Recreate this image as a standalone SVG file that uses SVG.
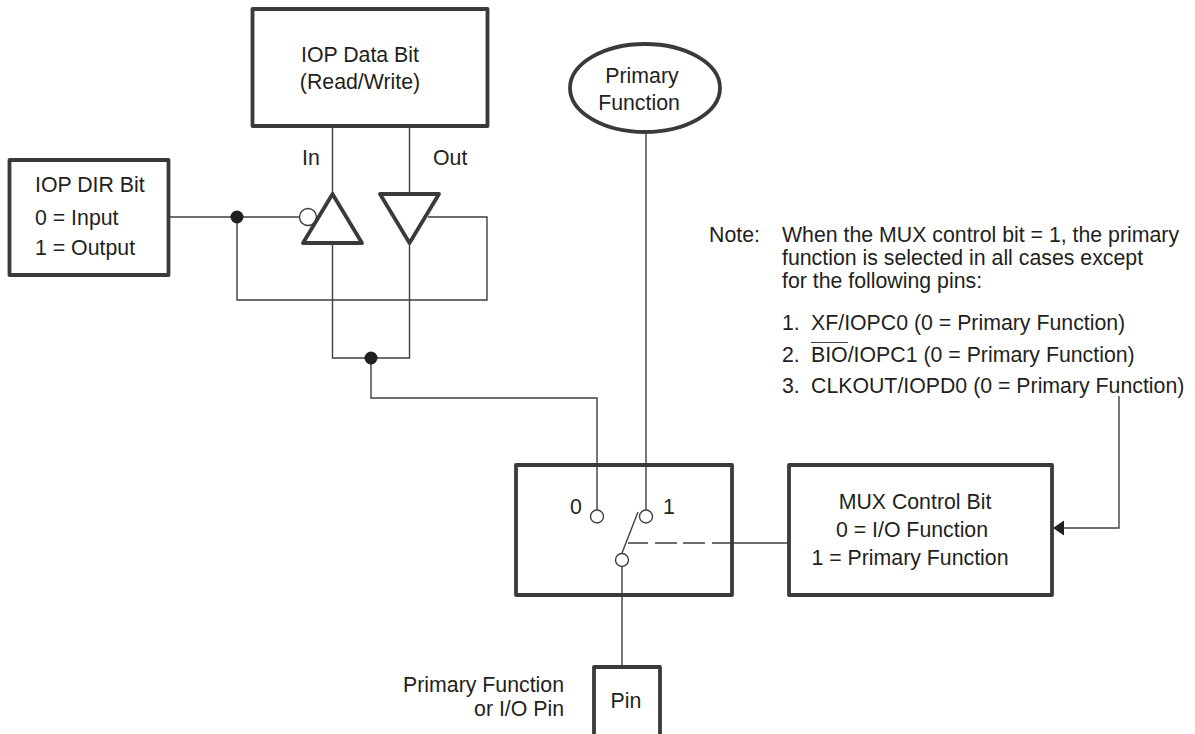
<svg xmlns="http://www.w3.org/2000/svg" width="1195" height="734" viewBox="0 0 1195 734">
<style>
text{font-family:"Liberation Sans",Arial,sans-serif;font-size:21.300px;fill:#231f20}
.m{text-anchor:middle}
.e{text-anchor:end}
.b{fill:#fff;stroke:#3a3a3a;stroke-width:3.800;stroke-linejoin:round}
.n{fill:none;stroke:#3a3a3a;stroke-width:3.800;stroke-linejoin:round}
.w{fill:none;stroke:#3f3f3f;stroke-width:1.400}
.o{fill:#fff;stroke:#3f3f3f;stroke-width:1.400}
.d{fill:#231f20}
</style>
<rect width="1195" height="734" fill="#fff"/>
<g id="connectors">
<path class="w" d="M170 217H301"/>
<path class="w" d="M237 217V300H487V217H428"/>
<path class="w" d="M332.500 127V194M409.500 127V194"/>
<path class="w" d="M332.500 243V358H409.500V243"/>
<path class="w" d="M371 358V398H597V510"/>
<path class="w" d="M646 133V510"/>
<path class="w" d="M622 566V667"/>
<path class="w" d="M638 512L622 553"/>
<path class="w" d="M628 543H648M655 543H677M683 543H705M712 543H789"/>
<path class="w" d="M1119 396V528H1060"/>
<polygon class="d" points="1053,528 1064,520.500 1064,535.500"/>
<circle class="d" cx="237" cy="217" r="6.500"/>
<circle class="d" cx="371" cy="358" r="6.500"/>
</g>
<g id="iop-data-bit">
<rect class="b" x="252.500" y="9" width="235" height="117"/>
<text class="m" x="360" y="62">IOP Data Bit</text>
<text class="m" x="360" y="89">(Read/Write)</text>
</g>
<g id="primary-function">
<ellipse class="b" cx="645" cy="88" rx="75" ry="44"/>
<text class="m" x="642" y="83">Primary</text>
<text class="m" x="639" y="110">Function</text>
</g>
<g id="iop-dir-bit">
<rect class="b" x="9.500" y="160" width="159" height="115"/>
<text x="35" y="192">IOP DIR Bit</text>
<text x="35" y="225">0 = Input</text>
<text x="35" y="255">1 = Output</text>
</g>
<g id="input-buffer">
<circle class="o" cx="308" cy="217" r="8.500"/>
<polygon class="b" points="332.500,194 362,243 303,243"/>
<text x="302" y="165">In</text>
</g>
<g id="output-buffer">
<polygon class="b" points="380,194 439,194 409.500,243"/>
<text x="433" y="165">Out</text>
</g>
<g id="mux">
<rect class="n" x="516" y="465" width="216" height="130"/>
<circle class="o" cx="597" cy="516.500" r="6.500"/>
<circle class="o" cx="646" cy="516.500" r="6.500"/>
<circle class="o" cx="622" cy="560" r="6.500"/>
<text x="570" y="514">0</text>
<text x="663" y="514">1</text>
</g>
<g id="mux-control-bit">
<rect class="b" x="789" y="465" width="263" height="130"/>
<text class="m" x="915" y="509">MUX Control Bit</text>
<text class="m" x="912" y="537">0 = I/O Function</text>
<text class="m" x="910" y="565">1 = Primary Function</text>
</g>
<g id="pin">
<rect class="b" x="594" y="667" width="66" height="72"/>
<text class="m" x="626" y="708">Pin</text>
<text class="e" x="564" y="692">Primary Function</text>
<text class="e" x="564" y="716">or I/O Pin</text>
</g>
<g id="note">
<text x="709" y="242">Note:</text>
<text x="782" y="242">When the MUX control bit = 1, the primary</text>
<text x="782" y="265">function is selected in all cases except</text>
<text x="782" y="288">for the following pins:</text>
<text x="782" y="330">1.</text>
<text x="811" y="330">XF/IOPC0 (0 = Primary Function)</text>
<text x="782" y="362">2.</text>
<text x="811" y="362">BIO/IOPC1 (0 = Primary Function)</text>
<path d="M811 342.500H848" stroke="#3f3f3f" stroke-width="1.200"/>
<text x="782" y="393">3.</text>
<text x="811" y="393">CLKOUT/IOPD0 (0 = Primary Function)</text>
</g>
</svg>
